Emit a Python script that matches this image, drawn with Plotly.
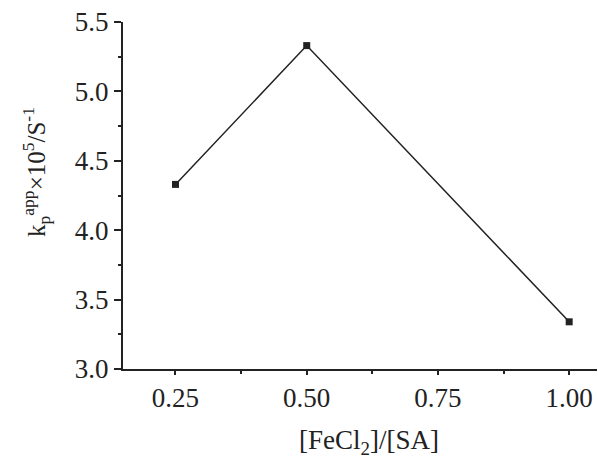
import plotly.graph_objects as go

# FeCl2/SA ratio vs apparent propagation rate constant
ratio = [0.25, 0.50, 1.00]
kp_app = [4.33, 5.33, 3.34]

x_ticks = [0.25, 0.50, 0.75, 1.00]
x_tick_text = ["0.25", "0.50", "0.75", "1.00"]
y_ticks = [3.0, 3.5, 4.0, 4.5, 5.0, 5.5]
y_tick_text = ["3.0", "3.5", "4.0", "4.5", "5.0", "5.5"]

FAMILY = "Liberation Serif"
INK = "#222"
tick_font = dict(family=FAMILY, size=27, color=INK)

fig = go.Figure()
fig.add_trace(go.Scatter(
    x=ratio, y=kp_app, mode="lines+markers",
    line=dict(color=INK, width=1.5),
    marker=dict(symbol="square", size=7, color=INK),
    showlegend=False,
))

fig.update_layout(
    width=598, height=458,
    margin=dict(l=123, r=1, t=22, b=89),
    paper_bgcolor="white", plot_bgcolor="white",
    font=dict(family=FAMILY, size=27, color=INK),
    xaxis=dict(
        range=[0.15, 1.053],
        tickvals=x_ticks, ticktext=x_tick_text, tickfont=tick_font,
        ticks="outside", ticklen=4, tickwidth=1.5, tickcolor=INK,
        minor=dict(dtick=0.125, tick0=0, ticks="outside", ticklen=3, tickcolor=INK),
        showline=True, linecolor=INK, linewidth=2,
        showgrid=False, zeroline=False,
    ),
    yaxis=dict(
        range=[3.0, 5.5],
        tickvals=y_ticks, ticktext=y_tick_text, tickfont=tick_font,
        ticks="outside", ticklen=7, tickwidth=1.5, tickcolor=INK,
        minor=dict(dtick=0.25, tick0=0, ticks="outside", ticklen=3, tickcolor=INK),
        showline=True, linecolor=INK, linewidth=2,
        showgrid=False, zeroline=False,
    ),
    annotations=[
        # x-axis title
        dict(
            text="[FeCl<sub>2</sub>]/[SA]",
            font=dict(family=FAMILY, size=27, color=INK),
            xref="paper", yref="paper", x=0.518, y=0,
            xanchor="center", yanchor="middle", yshift=-73, showarrow=False,
        ),
        # y-axis title
        dict(
            text="k<sub>p</sub><sup>app</sup>×10<sup>5</sup>/S<sup>-1</sup>",
            textangle=-90, font=dict(family=FAMILY, size=25, color=INK),
            xref="paper", yref="paper", x=0, y=0.568,
            xanchor="center", yanchor="middle", xshift=-87, showarrow=False,
        ),
    ],
)

fig.write_html("out.html")
